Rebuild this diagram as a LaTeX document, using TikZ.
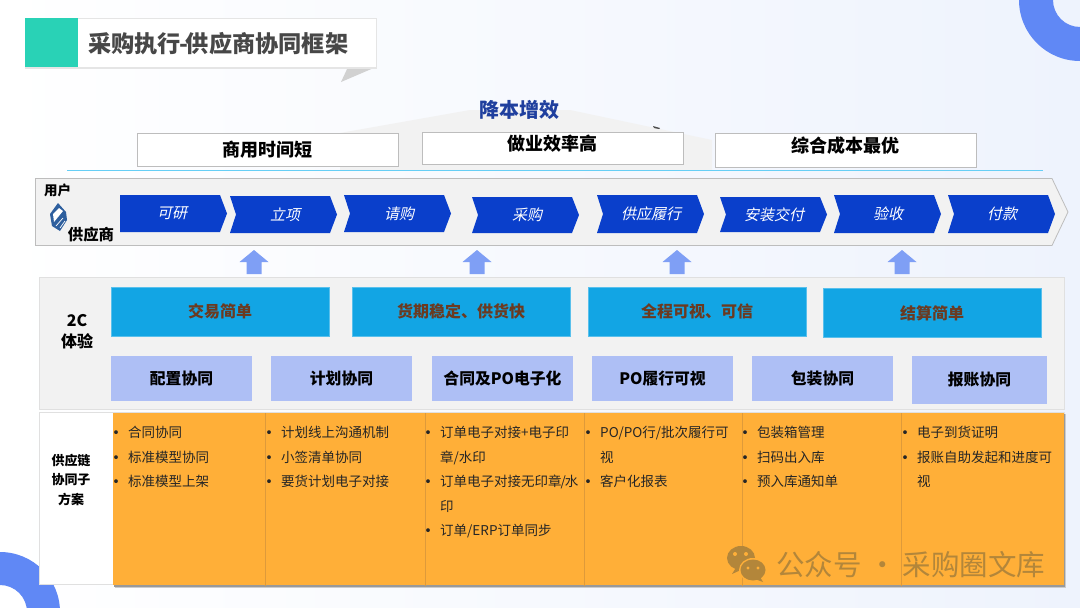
\documentclass[tikz,border=0pt]{standalone}
\usepackage{fontspec}
\setmainfont{Noto Sans CJK SC}
\newfontfamily\slantfont[FakeSlant=0.22]{Noto Sans CJK SC}
\usetikzlibrary{shapes.geometric}
\definecolor{ringblue}{HTML}{6088F5}
\definecolor{chevblue}{HTML}{0A3FCB}
\definecolor{bandgray}{HTML}{F2F2F2}
\definecolor{linegray}{HTML}{BDBDBD}
\definecolor{cyanbox}{HTML}{12A5E4}
\definecolor{brownt}{HTML}{6B3A20}
\definecolor{peri}{HTML}{AEBFF5}
\definecolor{orangep}{HTML}{FFAF38}
\definecolor{orangeline}{HTML}{DE9A3A}
\definecolor{wm}{HTML}{B3863A}
\definecolor{arrowblue}{HTML}{7F9FF5}
\definecolor{headblue}{HTML}{1F3F9E}
\definecolor{bgr}{HTML}{EEF3FD}
\definecolor{tealbox}{HTML}{29D2B6}
\definecolor{logoblue}{HTML}{2E5F9E}
\tikzset{
  goalbox/.style={draw=linegray,line width=0.9pt,fill=white,minimum height=33pt,minimum width=261pt,inner sep=0pt,font=\fontsize{18}{20}\selectfont\bfseries},
  chevtext/.style={text=white,font=\fontsize{15}{17}\selectfont\slantfont},
  chevfill/.style={fill=chevblue},
  upblock/.style={fill=arrowblue},
  expbox/.style={fill=cyanbox,draw=cyanbox!70!white,line width=.4pt,minimum width=218pt,minimum height=49pt,inner sep=0pt,text=brownt,font=\fontsize{16}{18}\selectfont\bfseries},
  subbox/.style={fill=peri,minimum width=141pt,minimum height=45pt,inner sep=0pt,font=\fontsize{15.8}{18}\selectfont\bfseries},
  coltext/.style={anchor=north west,inner sep=0pt,align=left,text=black!85,font=\fontsize{13.5}{24.5}\selectfont},
  sidelabel/.style={font=\fontsize{13}{19.5}\selectfont\bfseries,align=center,inner sep=0pt}
}
\newcommand{\pchev}[6]{%
  \fill[chevfill] (#2,#3) -- (#2+100,#3) -- (#2+107,{(#3+#4)/2}) -- (#2+100,#4) -- (#2,#4) -- (#2+6,{(#3+#4)/2}) -- cycle;
  \node[chevtext] (#1) at (#5,{(#3+#4)/2}) {#6};}
\newcommand{\pup}[1]{%
  \fill[upblock] (#1-7.5,274) -- (#1-7.5,262) -- (#1-14.5,262) -- (#1,250) -- (#1+14.5,262) -- (#1+7.5,262) -- (#1+7.5,274) -- cycle;}
\newcommand{\blt}{\llap{\raisebox{-2pt}{\fontsize{18}{24.5}\selectfont•}\hspace{3pt}}}
\begin{document}
\begin{tikzpicture}[x=1pt,y=-1pt]
\useasboundingbox (0,0) rectangle (1080,608);
\clip (0,0) rectangle (1080,608);
% background
\shade[left color=white,right color=bgr] (0,0) rectangle (1080,608);
% corner rings
\fill[ringblue,even odd rule] (1080,0) circle (61) (1080,0) circle (27);
\fill[ringblue,even odd rule] (0,612) circle (60) (0,612) circle (27);
% title
\fill[black!18] (348,67) -- (376,67) -- (341,82) -- cycle;
\fill[black!10] (25,18) rectangle (377,69);
\fill[white] (25.5,18.5) rectangle (376,67);
\fill[tealbox] (25,18) rectangle (78,67);
\node[anchor=west,inner sep=0pt,text=black!72,font=\fontsize{23.2}{26}\selectfont\bfseries] (title) at (88,44) {采购执行\kern-2pt-\kern-2pt 供应商协同框架};
% roof
\fill[bandgray] (340,133) -- (470,110) -- (570,110) -- (712,140) -- (712,170) -- (340,170) -- cycle;
\fill[black!70] (653,126) -- (660,128) -- (659,129) -- (654,128) -- cycle;
\node[text=headblue,font=\fontsize{20}{22}\selectfont\bfseries,inner sep=0pt] (goal) at (519,110) {降本增效};
\node[goalbox] (g1) at (267.5,149.5) {商用时间短};
\node[goalbox,minimum height=32pt] (g2) at (552.5,148) {};
\node[inner sep=0pt,font=\fontsize{18}{20}\selectfont\bfseries] (g2t) at (552.5,143.5) {做业效率高};
\node[goalbox,minimum height=34pt] (g3) at (845.5,150) {};
\node[inner sep=0pt,font=\fontsize{18}{20}\selectfont\bfseries] (g3t) at (845.5,146) {综合成本最优};
\draw[cyan!60,line width=1pt] (67,170) -- (1043,170);
% process band
\draw[linegray,fill=bandgray,line width=.8pt] (35.5,178.5) -- (1052,178.5) -- (1068,212) -- (1052,245.5) -- (35.5,245.5) -- cycle;
\node[inner sep=0pt,font=\fontsize{13.5}{15}\selectfont\bfseries] (user) at (57.5,190) {用户};
\node[inner sep=0pt,font=\fontsize{15.4}{17}\selectfont\bfseries] (vendor) at (91,235) {供应商};
% logo
\fill[logoblue] (58,203) -- (66,212) -- (67,220) -- (60,231) -- (52,226) -- (50,214) -- cycle;
\fill[white] (59,208) -- (63,211) -- (54,222) -- (53,214) -- cycle;
\draw[white,line width=.7pt] (56,226) -- (63,218) (60,228) -- (65,221);
% chevrons
\fill[chevfill] (120,195) -- (220,195) -- (227,213.5) -- (220,232) -- (120,232) -- cycle;
\node[chevtext] (c1) at (172,213) {可研};
\pchev{c2}{230}{196}{233}{285}{立项}
\pchev{c3}{344}{195}{232}{399}{请购}
\pchev{c4}{472}{197}{233}{527}{采购}
\pchev{c5}{597}{195}{233}{651}{供应履行}
\pchev{c6}{720}{197}{232}{774}{安装交付}
\pchev{c7}{834}{195}{233}{888}{验收}
\pchev{c8}{948}{195}{233}{1002}{付款}
% up arrows
\pup{254}
\pup{477}
\pup{677}
\pup{902}
% 2C panel
\draw[black!12,fill=black!5,line width=.6pt] (39,277.5) rectangle (1064,409);
\node[sidelabel,font=\fontsize{16}{21}\selectfont\bfseries] (tc) at (77,332) {2C\\体验};
\node[expbox] (e1) at (220,311.5) {交易简单};
\node[expbox] (e2) at (461,311.5) {货期稳定、供货快};
\node[expbox] (e3) at (697,311.5) {全程可视、可信};
\node[expbox] (e4) at (932,313) {结算简单};
\node[subbox] (s1) at (181.5,378.5) {配置协同};
\node[subbox] (s2) at (341.5,378.5) {计划协同};
\node[subbox] (s3) at (502.5,378.5) {合同及PO电子化};
\node[subbox] (s4) at (662.5,378.5) {PO履行可视};
\node[subbox] (s5) at (822.5,378.5) {包装协同};
\node[subbox,minimum width=135pt,minimum height=48pt] (s6) at (979.5,380) {报账协同};
% lower panel
\draw[black!12,fill=white,line width=.6pt] (39.5,412.5) rectangle (1064,584.5);
\node[sidelabel] (sc) at (71,479.5) {供应链\\协同子\\方案};
% orange columns
\fill[black!20] (115,414) rectangle (1066,588);
\fill[black!40] (114,414) rectangle (1065,586.5);
\fill[orangep] (113,413) rectangle (1064,585);
\foreach \xv in {265,425,584,742,901}{\draw[orangeline,line width=.8pt] (\xv,413) -- (\xv,586);}
\node[coltext] (t1) at (128,426) {\blt 合同协同\\\blt 标准模型协同\\\blt 标准模型上架};
\node[coltext] (t2) at (281,426) {\blt 计划线上沟通机制\\\blt 小签清单协同\\\blt 要货计划电子对接};
\node[coltext] (t3) at (440,426) {\blt 订单电子对接+电子印\\章/水印\\\blt 订单电子对接无印章\kern-1pt/\kern-1pt 水\\印\\\blt 订单/ERP订单同步};
\node[coltext] (t4) at (600,426) {\blt PO/PO行/批次履行可\\视\\\blt 客户化报表};
\node[coltext] (t5) at (757,426) {\blt 包装箱管理\\\blt 扫码出入库\\\blt 预入库通知单};
\node[coltext] (t6) at (917,426) {\blt 电子到货证明\\\blt 报账自助发起和进度可\\视};
% watermark
\fill[wm] (741,558) ellipse (14 and 12);
\fill[wm] (737,566) -- (732,574) -- (743,569) -- cycle;
\fill[orangep] (753,570) ellipse (14 and 12);
\fill[wm] (753,570) ellipse (12.5 and 10.5);
\fill[wm] (760,577) -- (763,582) -- (755,579) -- cycle;
\fill[orangep] (735,554) circle (2) (746,554) circle (2) (748,568) circle (1.7) (758,568) circle (1.7);
\node[anchor=west,inner sep=0pt,text=wm,font=\fontsize{28.5}{30}\selectfont] (wmt) at (776,565) {公众号 · 采购圈文库};
\end{tikzpicture}
\end{document}
